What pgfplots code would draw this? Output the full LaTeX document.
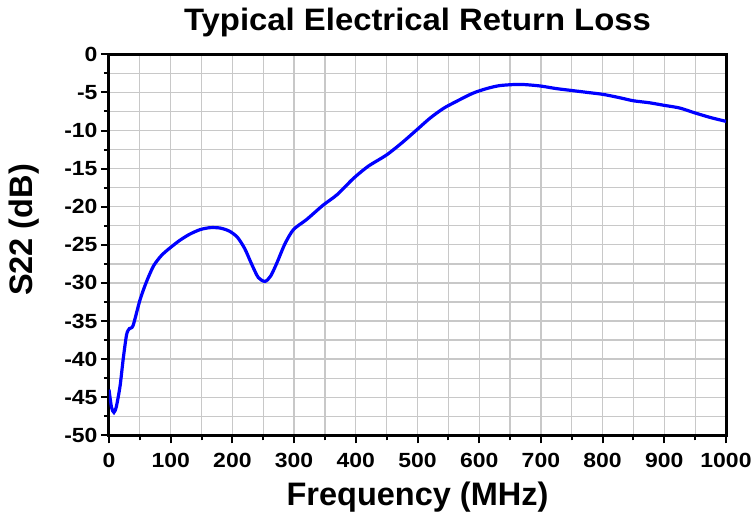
\documentclass[border=0pt]{standalone}
\usepackage{pgfplots}
\pgfplotsset{compat=1.18}
\usepackage{fontspec}
\setmainfont{Liberation Sans}
\newfontfamily\tickfont{Liberation Sans}[FakeStretch=1.12]
\newfontfamily\titlefont{Liberation Sans}[FakeStretch=1.06]
\definecolor{gridgray}{RGB}{200,200,200}
\begin{document}
\begin{tikzpicture}
\path[use as bounding box] (-109pt,-81.7pt) rectangle (644pt,435.3pt);
\begin{axis}[
  scale only axis,
  width=617pt, height=381pt,
  xmin=0, xmax=1000, ymin=-50, ymax=0,
  xtick={0,100,...,1000},
  ytick={-50,-45,...,0},
  minor x tick num=1,
  minor y tick num=1,
  grid=both,
  major grid style={gridgray, line width=1.3pt},
  minor grid style={gridgray, line width=1.3pt},
  axis line style={line width=3pt, black},
  tick align=outside,
  xtick pos=bottom, ytick pos=left,
  major tick length=8pt,
  minor tick length=5pt,
  every tick/.style={black, line width=2pt},
  /pgf/number format/assume math mode=true,
  /pgf/number format/1000 sep={},
  xticklabel style={font=\tickfont\fontsize{20.5}{20.5}\selectfont\bfseries, yshift=-6pt},
  yticklabel style={font=\tickfont\fontsize{20.5}{20.5}\selectfont\bfseries},
  title={Typical Electrical Return Loss},
  title style={font=\titlefont\fontsize{31}{31}\selectfont\bfseries, anchor=base, at={(axis description cs:0.5,1.0462)}},
  xlabel={Frequency (MHz)},
  xlabel style={font=\fontsize{32.5}{32.5}\selectfont\bfseries, anchor=base, at={(axis description cs:0.5,-0.1837)}},
  ylabel={S22 (dB)},
  ylabel style={font=\fontsize{32.5}{32.5}\selectfont\bfseries, anchor=base, at={(axis description cs:-0.1232,0.539)}},
]
\addplot[blue, line width=3.2pt, smooth, tension=0.45] coordinates {
(0,-44) (4,-46.3) (8,-47) (12,-46.2) (18,-43.5) (23,-40) (28.5,-36.8) (33,-36) (39,-35.6)
(50,-32.3) (60,-30) (72,-27.8) (85,-26.4) (99,-25.4) (115,-24.4) (131,-23.6) (148,-23)
(164,-22.75) (180,-22.8) (195,-23.2) (208,-24.0) (220,-25.5) (231,-27.5) (242,-29.3) (253,-29.8)
(262,-29.1) (272,-27.4) (285,-24.9) (299,-23.0) (320,-21.7) (347,-19.8) (370,-18.4)
(396,-16.3) (420,-14.7) (450,-13.2) (475,-11.6) (499,-9.9) (520,-8.4) (542,-7.1) (565,-6.1) (590,-5.1)
(612,-4.5) (634,-4.1) (666,-3.95) (698,-4.15) (725,-4.5) (750,-4.75) (775,-5.0) (800,-5.25)
(825,-5.65) (850,-6.1) (875,-6.35) (900,-6.7) (925,-7.05) (950,-7.7) (975,-8.3) (1000,-8.8)
};
\end{axis}
\end{tikzpicture}
\end{document}
